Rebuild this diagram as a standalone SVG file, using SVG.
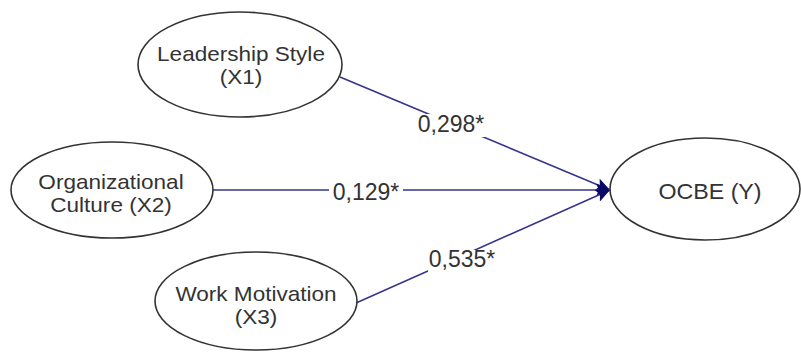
<svg xmlns="http://www.w3.org/2000/svg" width="801" height="352" viewBox="0 0 801 352">
<defs>
<style>
.node ellipse{fill:#fff;stroke:#333;stroke-width:1.6}
.node text{font-family:"Liberation Sans",Arial,sans-serif;font-size:20.5px;fill:#333;text-anchor:middle}
.edge{stroke:#35358a;stroke-width:1.6;fill:none}
.lbl rect{fill:#fff}
.lbl text{font-family:"Liberation Sans",Arial,sans-serif;font-size:23px;fill:#333;text-anchor:middle}
</style>
<marker id="arr" markerUnits="userSpaceOnUse" markerWidth="15" markerHeight="13" refX="14" refY="6.5" orient="auto">
<path d="M0,0 L14,6.5 L0,13 L3,6.5 z" fill="#0a0a66"/>
</marker>
</defs>
<rect width="801" height="352" fill="#fff"/>
<g id="connectors">
<line class="edge" x1="340" y1="77" x2="610" y2="190" marker-end="url(#arr)"/>
<line class="edge" x1="213" y1="190" x2="610" y2="190" marker-end="url(#arr)"/>
<line class="edge" x1="356" y1="303" x2="610" y2="190" marker-end="url(#arr)"/>
<g class="lbl">
<rect x="416" y="114" width="71" height="23"/>
<text x="451" y="132">0,298*</text>
<rect x="329" y="180" width="74" height="24"/>
<text x="366" y="200">0,129*</text>
<rect x="428" y="250" width="68" height="22"/>
<text x="462" y="267">0,535*</text>
</g>
</g>
<g id="n1" class="node">
<ellipse cx="240" cy="64.5" rx="102" ry="52.5"/>
<text transform="translate(241,0) scale(1.1,1)" x="0" y="61">Leadership Style<tspan x="0" dy="23.5">(X1)</tspan></text>
</g>
<g id="n2" class="node">
<ellipse cx="112" cy="190" rx="101" ry="48"/>
<text transform="translate(111,0) scale(1.1,1)" x="0" y="189">Organizational<tspan x="0" dy="23.5">Culture (X2)</tspan></text>
</g>
<g id="n3" class="node">
<ellipse cx="256" cy="301" rx="101" ry="49"/>
<text transform="translate(256,0) scale(1.1,1)" x="0" y="301">Work Motivation<tspan x="0" dy="23.5">(X3)</tspan></text>
</g>
<g id="n4" class="node">
<ellipse cx="705" cy="189" rx="95" ry="51"/>
<text transform="translate(710,0) scale(1.08,1)" x="0" y="199" style="font-size:21.5px">OCBE (Y)</text>
</g>
</svg>
